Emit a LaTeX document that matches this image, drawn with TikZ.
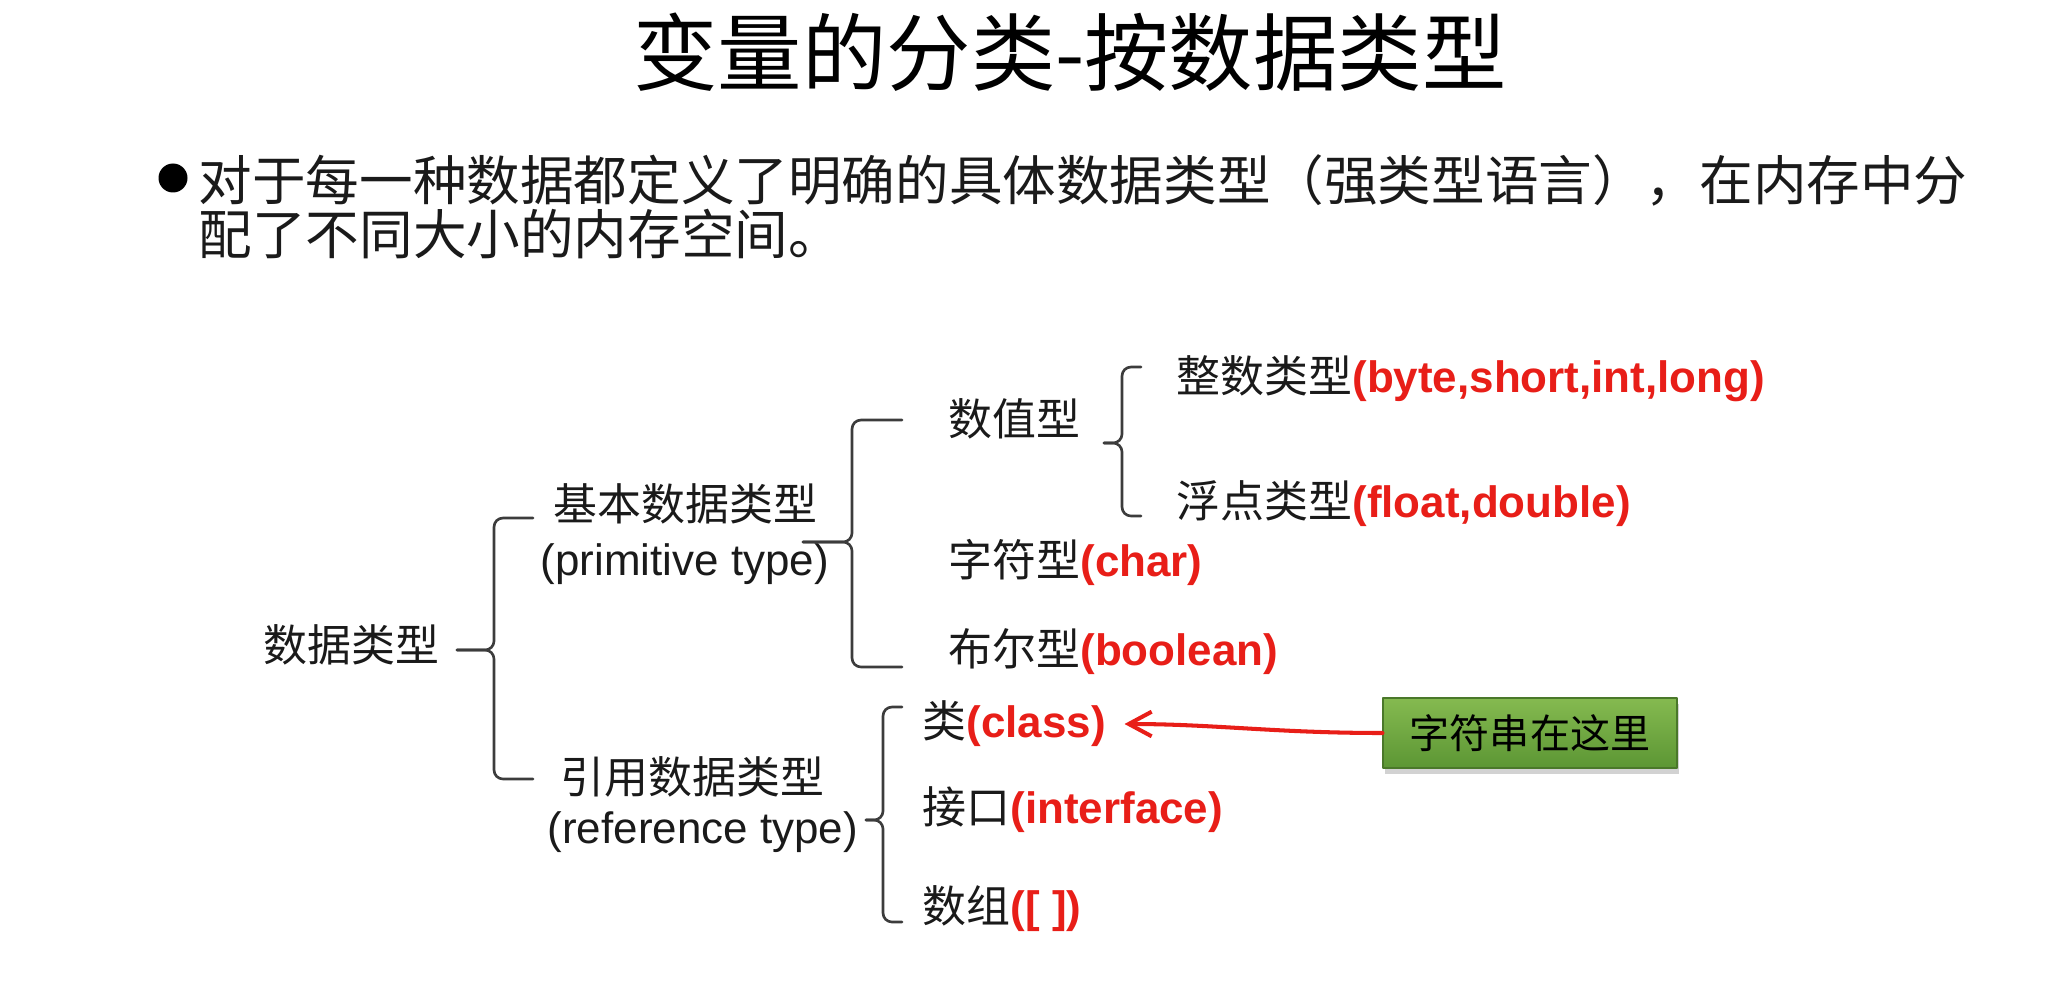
\documentclass[tikz,border=0pt]{standalone}
\usepackage{fontspec}
\setmainfont{Noto Sans CJK SC}
\newfontfamily\arial{Liberation Sans}
\usetikzlibrary{arrows.meta,shadows}

\definecolor{ink}{RGB}{26,26,26}
\definecolor{typered}{RGB}{232,30,24}
\definecolor{notetop}{RGB}{133,186,80}
\definecolor{notebot}{RGB}{92,150,52}

% Chinese name followed by the red Java keyword part
\newcommand{\kw}[1]{{\arial\bfseries\color{typered}#1}}
\newcommand{\en}[1]{{\arial #1}}
% One curly bracket: tip x, tip y, bar x, top y, bottom y, arm end x
\newcommand{\typebrace}[6]{%
  \draw[bracket] (#6,#4) -- (#3,#4) -- (#3,#2) -- (#1,#2);
  \draw[bracket] (#6,#5) -- (#3,#5) -- (#3,#2) -- (#1,#2);}

\begin{document}
\begin{tikzpicture}[x=0.1mm, y=-0.1mm, line cap=round, line join=round,
  item/.style={anchor=west, inner sep=0pt, text=ink, font=\fontsize{12.5pt}{15pt}\selectfont},
  bracket/.style={draw=ink!85, line width=0.75pt, rounded corners=0.9mm},
  note/.style={draw=notebot!80!black, line width=0.3pt, top color=notetop, bottom color=notebot,
    minimum width=29.4mm, minimum height=7mm, inner sep=0pt, text=black,
    font=\fontsize{11.4pt}{13pt}\selectfont,
    drop shadow={shadow xshift=0.2mm, shadow yshift=-0.6mm, opacity=0.35}},
  pointer/.style={draw=typered, line width=1.15pt, -{Straight Barb[length=6.5pt,width=7pt]}}]
  \fill[white] (0,0) rectangle (2065,1001);
  \useasboundingbox (0,0) rectangle (2065,1001);

  % Heading and the bullet sentence.
  \node[inner sep=0pt, text=black, font=\fontsize{24pt}{28pt}\selectfont] (title) at (1070,52) {变量的分类-按数据类型};
  \fill[black] (173,178) circle (14.5);
  \node[item, font=\fontsize{15.25pt}{18pt}\selectfont] (line1) at (198,180) {对于每一种数据都定义了明确的具体数据类型（强类型语言），在内存中分};
  \node[item, font=\fontsize{15.25pt}{18pt}\selectfont] (line2) at (198,234) {配了不同大小的内存空间。};

  % The type tree.
  \node[item] (data) at (263,645) {数据类型};
  \node[item] (basic) at (553,504) {基本数据类型};
  \node[item] (basicen) at (540,564) {\en{(primitive type)}};
  \node[item] (ref) at (560,777) {引用数据类型};
  \node[item] (refen) at (547,832) {\en{(reference type)}};
  \node[item] (num) at (948,419) {数值型};
  \node[item] (int) at (1176,379) {整数类型\kw{(byte,short,int,long)}};
  \node[item] (float) at (1176,504) {浮点类型\kw{(float,double)}};
  \node[item] (char) at (948,562) {字符型\kw{(char)}};
  \node[item] (bool) at (948,652) {布尔型\kw{(boolean)}};
  \node[item] (class) at (922,724) {类\kw{(class)}};
  \node[item] (iface) at (922,810) {接口\kw{(interface)}};
  \node[item] (arr) at (922,909) {数组\kw{([ ])}};

  % Brackets between the levels.
  \typebrace{457}{650}{494}{518}{779}{533}
  \typebrace{803}{542}{852}{420}{667}{902}
  \typebrace{866}{820}{883}{707}{922}{902}
  \typebrace{1104}{443}{1122}{367}{516}{1141}

  % Green note pointing at the class entry.
  \node[note] (string) at (1530,733) {字符串在这里};
  \draw[pointer, shorten >=1.8mm] (string.west) to[out=180, in=0] (class.east);
\end{tikzpicture}
\end{document}
